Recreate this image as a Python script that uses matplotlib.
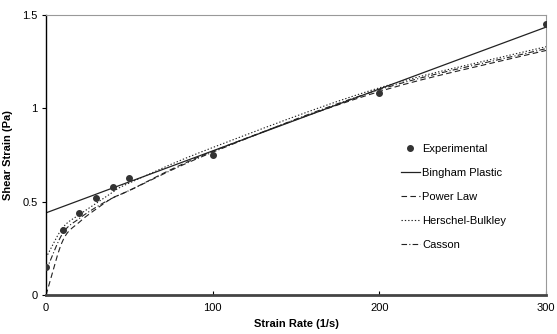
import numpy as np
import matplotlib
matplotlib.use("Agg")
import matplotlib.pyplot as plt

plt.rcParams['font.family'] = ['Liberation Sans', 'DejaVu Sans']

strain_rate = [0, 10, 20, 30, 40, 50, 100, 200, 300]
experimental = [0.15, 0.35, 0.44, 0.52, 0.58, 0.625, 0.75, 1.08, 1.45]
bingham = [0.44, 0.473, 0.506, 0.54, 0.573, 0.606, 0.772, 1.104, 1.435]
power_law = [0.0, 0.29, 0.39, 0.46, 0.52, 0.56, 0.77, 1.09, 1.31]
herschel = [0.20, 0.36, 0.43, 0.49, 0.55, 0.60, 0.79, 1.11, 1.33]
casson = [0.13, 0.33, 0.41, 0.47, 0.52, 0.56, 0.765, 1.10, 1.32]


def smooth(xs, ys, n=20):
    # catmull-rom style smoothing, like excel's "smoothed line"
    xs = np.asarray(xs, float)
    ys = np.asarray(ys, float)
    px = np.concatenate([[2 * xs[0] - xs[1]], xs, [2 * xs[-1] - xs[-2]]])
    py = np.concatenate([[2 * ys[0] - ys[1]], ys, [2 * ys[-1] - ys[-2]]])
    ox, oy = [], []
    t = np.linspace(0, 1, n, endpoint=False)
    for i in range(1, len(px) - 2):
        for p, o in ((px, ox), (py, oy)):
            p0, p1, p2, p3 = p[i - 1], p[i], p[i + 1], p[i + 2]
            o.extend(0.5 * (2 * p1 + (-p0 + p2) * t + (2 * p0 - 5 * p1 + 4 * p2 - p3) * t ** 2
                            + (-p0 + 3 * p1 - 3 * p2 + p3) * t ** 3))
    ox.append(xs[-1])
    oy.append(ys[-1])
    return ox, oy


fig = plt.figure(figsize=(5.57, 3.34), dpi=100)
ax = fig.add_axes([0.0826, 0.1168, 0.8977, 0.8383])

ax.plot(strain_rate, experimental, 'o', color='#333333', markersize=4, label='Experimental', zorder=5)
ax.plot(*smooth(strain_rate, bingham), '-', color='#222222', lw=0.9, label='Bingham Plastic')
ax.plot(*smooth(strain_rate, power_law), color='#222222', lw=0.8, dashes=(5, 3), label='Power Law')
ax.plot(*smooth(strain_rate, herschel), color='#222222', lw=0.8, dashes=(1.2, 1.8), label='Herschel-Bulkley')
ax.plot(*smooth(strain_rate, casson), color='#222222', lw=0.8, dashes=(5, 2, 1, 2), label='Casson')

ax.set_xlim(0, 300)
ax.set_ylim(0, 1.5)
ax.set_xticks([0, 100, 200, 300])
ax.set_xticklabels(['0', '100', '200', '300'])
ax.set_yticks([0, 0.5, 1, 1.5])
ax.set_yticklabels(['0', '0.5', '1', '1.5'])
ax.tick_params(axis='x', labelsize=8, length=3, width=0.8, direction='in', pad=6)
ax.tick_params(axis='y', labelsize=8, length=3, width=0.8, direction='out', pad=3)

ax.spines['left'].set_color('black')
ax.spines['left'].set_linewidth(1)
ax.spines['bottom'].set_color('#444444')
ax.spines['bottom'].set_linewidth(2)
ax.spines['top'].set_color('#999999')
ax.spines['top'].set_linewidth(0.8)
ax.spines['right'].set_color('#999999')
ax.spines['right'].set_linewidth(0.8)

ax.set_xlabel('Strain Rate (1/s)', fontsize=8, fontweight='bold', labelpad=4)
ax.set_ylabel('Shear Strain (Pa)', fontsize=8, fontweight='bold', labelpad=7)

ax.legend(loc='upper left', bbox_to_anchor=(0.69, 0.575), frameon=False, fontsize=8,
          handlelength=1.7, handletextpad=0.2, labelspacing=1.25)

fig.savefig('out.png', dpi=100)
